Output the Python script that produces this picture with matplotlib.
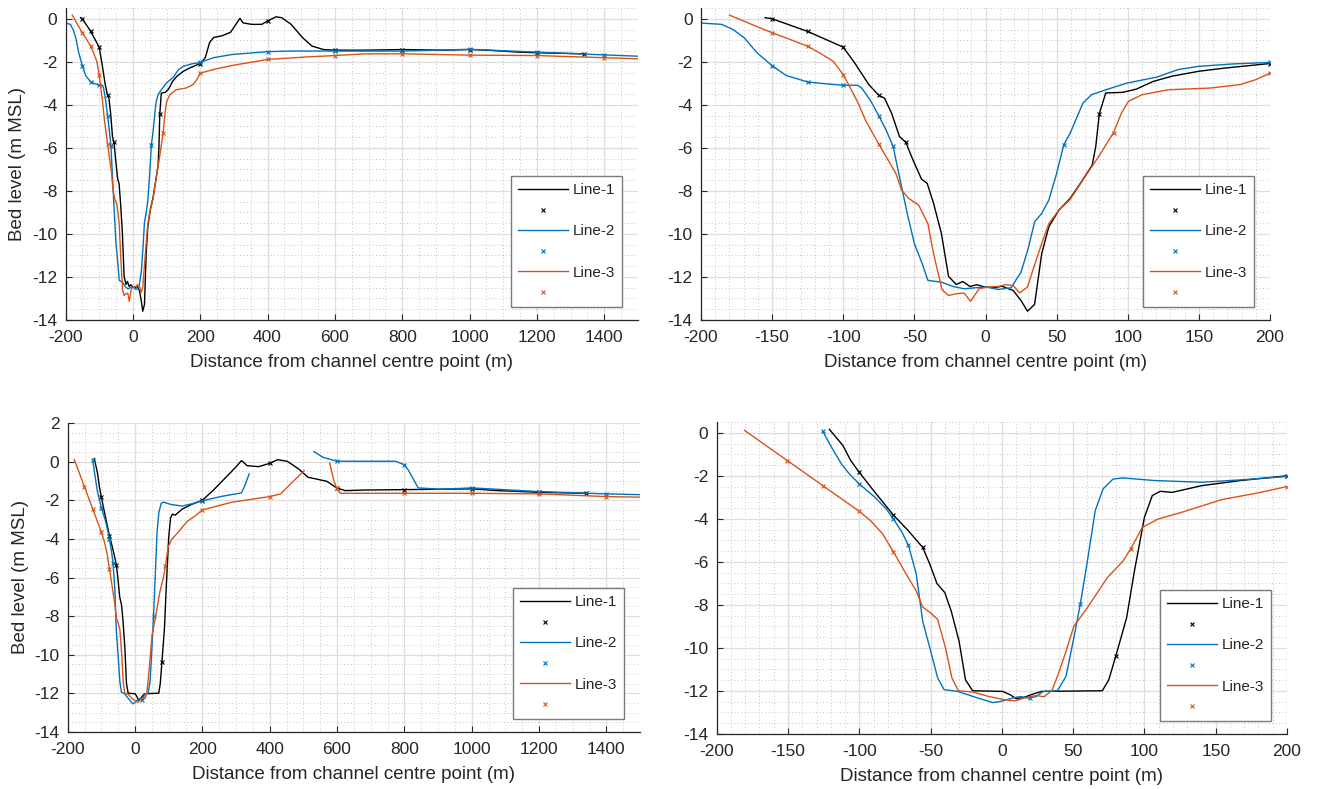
import numpy as np
import matplotlib
matplotlib.use('Agg')
import matplotlib.pyplot as plt
from matplotlib.ticker import MultipleLocator

plt.rcParams['font.family'] = ['Liberation Sans', 'DejaVu Sans']
plt.rcParams['axes.unicode_minus'] = False

nan = np.nan

# ---- survey A (top row) ----
a1_x = [-155, -150, -125, -100, -92, -82, -75, -71, -66, -60.5, -56, -51, -45, -41, -36.5, -31, -26, -20.5,
        -16, -11, -6, -0.5, 6, 11.5, 19.5, 25, 29.5, 34.5, 39.5, 44.5, 51.5, 59.5, 67.5, 75, 77.5, 80, 84.5,
        96.5, 106, 118, 131, 150, 168.5, 200, 215, 228, 240, 265, 290, 306, 318, 327, 352, 383, 400, 425,
        442, 470, 504, 532, 566, 600, 690, 800, 917, 1000, 1053, 1143, 1200, 1341]
a1_y = [0.05, 0.0, -0.59, -1.32, -2.05, -3.06, -3.56, -3.69, -4.39, -5.47, -5.75, -6.56, -7.45, -7.65, -8.58,
        -9.98, -11.97, -12.35, -12.21, -12.44, -12.36, -12.47, -12.5, -12.43, -12.63, -13.1, -13.59, -13.28,
        -10.92, -9.67, -8.9, -8.35, -7.57, -6.8, -5.94, -4.42, -3.45, -3.42, -3.27, -2.91, -2.67, -2.44, -2.29,
        -2.08, -1.81, -1.1, -0.87, -0.79, -0.63, -0.26, 0.02, -0.19, -0.26, -0.26, -0.1, 0.09, 0.05, -0.26,
        -0.88, -1.27, -1.43, -1.46, -1.46, -1.43, -1.46, -1.43, -1.46, -1.55, -1.58, -1.63]
a1_mx = [-150, -125, -100, -75, -56, 80, 200, 400, 600, 800, 1000, 1200, 1341]
a1_my = [0.0, -0.59, -1.32, -3.56, -5.75, -4.42, -2.08, -0.1, -1.46, -1.43, -1.43, -1.58, -1.63]

a2_x = [-200, -185.5, -177.5, -169.5, -160.5, -150, -140, -125, -111, -100, -90, -87, -80.5, -75, -70, -65,
        -60.5, -55, -50, -44.5, -40.5, -31, -23, -15, -7, 1, 9, 18, 25, 30, 34.5, 39.5, 44.5, 50, 55, 59.5,
        68.5, 74.5, 86, 99.5, 120.5, 135.5, 150, 174, 200, 239, 295, 400, 465, 600, 800, 1000, 1200, 1400, 1500]
a2_y = [-0.2, -0.26, -0.5, -0.89, -1.59, -2.18, -2.64, -2.94, -3.03, -3.09, -3.09, -3.22, -3.84, -4.51, -5.16,
        -5.91, -7.34, -9.05, -10.45, -11.38, -12.16, -12.24, -12.44, -12.55, -12.5, -12.47, -12.58, -12.5,
        -11.77, -10.68, -9.44, -9.05, -8.43, -7.19, -5.86, -5.32, -3.92, -3.53, -3.27, -2.99, -2.71, -2.36,
        -2.21, -2.1, -2.03, -1.81, -1.66, -1.53, -1.5, -1.5, -1.5, -1.42, -1.55, -1.68, -1.74]
a2_mx = [-150, -125, -100, -75, -65, 55, 200, 400, 600, 800, 1000, 1200, 1400]
a2_my = [-2.18, -2.94, -3.09, -4.51, -5.91, -5.86, -2.03, -1.53, -1.5, -1.5, -1.42, -1.55, -1.68]

a3_x = [-180, -164.5, -150, -137.5, -125, -116.5, -107, -100, -95, -89.5, -84.5, -75, -68.5, -63, -59, -54,
        -47, -40.5, -36.5, -30.5, -26, -20.5, -15, -10.5, -4.5, 1, 9, 14, 19.5, 24, 29.5, 34, 39.5, 44.5,
        51.5, 59.5, 70, 79.5, 90, 95.5, 100.5, 110, 128.5, 158, 179, 190, 200, 239, 295, 352, 400, 521, 600,
        690, 800, 1000, 1200, 1400, 1500]
a3_y = [0.17, -0.26, -0.65, -0.96, -1.28, -1.59, -1.98, -2.6, -3.22, -3.92, -4.7, -5.83, -6.56, -7.19, -7.96,
        -8.35, -8.66, -9.52, -10.92, -12.6, -12.86, -12.78, -12.75, -13.13, -12.55, -12.47, -12.44, -12.36,
        -12.4, -12.74, -12.47, -11.54, -10.45, -9.52, -8.9, -8.4, -7.34, -6.41, -5.29, -4.39, -3.84, -3.53,
        -3.3, -3.22, -3.06, -2.83, -2.53, -2.36, -2.17, -2.02, -1.89, -1.77, -1.71, -1.63, -1.63, -1.69,
        -1.71, -1.81, -1.86]
a3_mx = [-150, -125, -100, -75, 90, 200, 400, 600, 800, 1000, 1200, 1400]
a3_my = [-0.65, -1.28, -2.6, -5.83, -5.29, -2.53, -1.89, -1.71, -1.63, -1.69, -1.71, -1.81]

# ---- survey B (bottom row) ----
b1_x = [-121, -111.5, -106, -100, -89, -76, -65.5, -55.5, -50.5, -45.5, -40, -35.5, -30, -25.5, -20.5, 0.5,
        6, 10, 15.5, 21.5, 28, 70.5, 75, 80, 87.5, 93, 100, 105.5, 111, 119.5, 140, 167.5, 200, 231.5, 265,
        299, 316, 322, 333, 367, 400, 423.5, 452, 486, 514, 570, 598.5, 624.5, 683, 800, 1000, 1078, 1200, 1340]
b1_y = [0.16, -0.59, -1.29, -1.84, -2.77, -3.83, -4.56, -5.33, -6.11, -7.01, -7.43, -8.29, -9.69, -11.48,
        -11.99, -12.02, -12.18, -12.36, -12.3, -12.15, -12.02, -11.99, -11.48, -10.36, -8.6, -6.42, -3.93,
        -2.92, -2.72, -2.77, -2.46, -2.22, -2.0, -1.5, -0.9, -0.29, 0.05, -0.03, -0.21, -0.26, -0.09, 0.1,
        0.02, -0.38, -0.81, -1.02, -1.36, -1.5, -1.47, -1.45, -1.41, -1.5, -1.59, -1.64]
b1_mx = [-100, -76, -55.5, 80, 200, 400, 600, 800, 1000, 1200, 1340]
b1_my = [-1.84, -3.83, -5.33, -10.36, -2.0, -0.09, -1.36, -1.45, -1.41, -1.59, -1.64]

b2_x = [-125.5, -119.5, -112.5, -107, -100, -89, -81, -76, -70, -65.5, -60, -55.5, -50.5, -45, -40.5, -31,
        -20, -6.5, -1, 7.5, 13, 18.5, 24, 29, 39, 45, 50.5, 55, 60, 65.5, 71, 78, 85, 107, 140, 167.5, 200,
        254, 316, 324, 339, nan, 531, 559, 600, 774, 800, 813, 841, 909, 1000, 1200, 1400, 1500]
b2_y = [0.06, -0.67, -1.45, -1.91, -2.38, -3.0, -3.55, -4.01, -4.63, -5.23, -6.58, -8.76, -10.0, -11.4,
        -11.94, -12.02, -12.26, -12.54, -12.49, -12.33, -12.26, -12.33, -12.26, -12.02, -11.99, -11.32,
        -9.53, -7.98, -5.96, -3.62, -2.61, -2.15, -2.1, -2.22, -2.3, -2.19, -2.03, -1.81, -1.62, -1.33,
        -0.64, nan, 0.52, 0.22, 0.02, 0.02, -0.16, -0.47, -1.36, -1.43, -1.36, -1.55, -1.67, -1.71]
b2_mx = [-125.5, -100, -76, -65.5, 20, 55, 200, 600, 800, 1000, 1200, 1400]
b2_my = [0.06, -2.38, -4.01, -5.23, -12.33, -7.98, -2.03, 0.02, -0.16, -1.36, -1.55, -1.67]

b3_x = [-180.5, -150.5, -125.5, -100, -92, -83.5, -76, -67, -60, -55.5, -50, -45, -39.5, -35, -30.5, -20,
        -9, 2, 9, 15.5, 24, 29.5, 35, 39, 45, 50.5, 60, 74, 85, 90.5, 98.5, 109.5, 126, 154, 181.5, 200,
        288, 400, 432.5, 457, 502.5, nan, 578, 590.5, 598.5, 610, 683, 800, 1000, 1200, 1400, 1500]
b3_y = [0.11, -1.29, -2.46, -3.65, -4.09, -4.71, -5.54, -6.58, -7.36, -8.1, -8.37, -8.68, -10.0, -11.4,
        -11.99, -12.05, -12.26, -12.41, -12.46, -12.33, -12.21, -12.27, -11.99, -11.32, -10.16, -8.99,
        -8.13, -6.73, -5.96, -5.38, -4.4, -4.01, -3.7, -3.11, -2.77, -2.5, -2.1, -1.81, -1.67, -1.24, -0.47,
        nan, -0.07, -0.98, -1.36, -1.64, -1.64, -1.64, -1.64, -1.67, -1.81, -1.84]
b3_mx = [-150.5, -125.5, -100, -76, 90.5, 200, 400, 600, 800, 1000, 1200, 1400]
b3_my = [-1.29, -2.46, -3.65, -5.54, -5.38, -2.5, -1.81, -1.36, -1.64, -1.64, -1.67, -1.81]

labels = ['Line-1', '', 'Line-2', '', 'Line-3', '']
colors = ['#000000', '#0072BD', '#D95319']

survey_a = [(a1_x, a1_y, a1_mx, a1_my), (a2_x, a2_y, a2_mx, a2_my), (a3_x, a3_y, a3_mx, a3_my)]
survey_b = [(b1_x, b1_y, b1_mx, b1_my), (b2_x, b2_y, b2_mx, b2_my), (b3_x, b3_y, b3_mx, b3_my)]

W, H = 1317, 789
fig = plt.figure(figsize=(W / 100, H / 100), dpi=100)

# (left, right, top, bottom) in pixels
panels = [
    ((65.5, 638, 8, 320), survey_a, (-200, 1500), 200, 50, (-14, 0.5), True),
    ((701, 1270, 8, 320), survey_a, (-200, 200), 50, 10, (-14, 0.5), False),
    ((67.7, 640, 423, 732), survey_b, (-200, 1500), 200, 50, (-14, 2), True),
    ((716.7, 1287, 422, 734), survey_b, (-200, 200), 50, 10, (-14, 0.5), False),
]

axc = '#262626'
for (l, r, t, b), lines, xl, xmaj, xmin, yl, left_panel in panels:
    ax = fig.add_axes([l / W, 1 - b / H, (r - l) / W, (b - t) / H])
    handles = []
    for (x, y, mx, my), c in zip(lines, colors):
        h1, = ax.plot(x, y, color=c, lw=1.0)
        h2, = ax.plot(mx, my, ls='none', marker='x', ms=3.5, mew=0.8, color=c)
        handles += [h1, h2]
    ax.set_xlim(xl)
    ax.set_ylim(yl)
    ax.xaxis.set_major_locator(MultipleLocator(xmaj))
    ax.xaxis.set_minor_locator(MultipleLocator(xmin))
    ax.yaxis.set_major_locator(MultipleLocator(2))
    ax.yaxis.set_minor_locator(MultipleLocator(0.5))
    ax.grid(which='major', color='#dedede', lw=0.9)
    ax.grid(which='minor', color='#c4c4c4', lw=0.7, ls=(0, (1, 2.5)))
    ax.set_axisbelow(True)
    for s in ['top', 'right']:
        ax.spines[s].set_visible(False)
    for s in ['left', 'bottom']:
        ax.spines[s].set_color(axc)
        ax.spines[s].set_linewidth(0.9)
    ax.tick_params(which='major', direction='in', length=4, width=0.8, color=axc,
                   labelcolor=axc, labelsize=12.5)
    ax.tick_params(axis='x', which='major', pad=7)
    ax.tick_params(axis='y', which='major', pad=6)
    ax.tick_params(which='minor', length=0)
    ax.set_xlabel('Distance from channel centre point (m)', fontsize=13.5, color=axc, labelpad=7)
    if left_panel:
        ax.set_ylabel('Bed level (m MSL)', fontsize=13.5, color=axc, labelpad=4)
    aw, ah = r - l, b - t
    leg = ax.legend(handles, labels, loc='lower right', bbox_to_anchor=(1 - 16 / aw, 13 / ah),
                    borderaxespad=0, fontsize=11, handlelength=3.3, handletextpad=0.3,
                    labelspacing=0.43, fancybox=False, framealpha=1, edgecolor='#7a7a7a',
                    borderpad=0.45, numpoints=1)
    leg.get_frame().set_linewidth(1.0)
    for txt in leg.get_texts():
        txt.set_color(axc)

fig.savefig('out.png', dpi=100)
